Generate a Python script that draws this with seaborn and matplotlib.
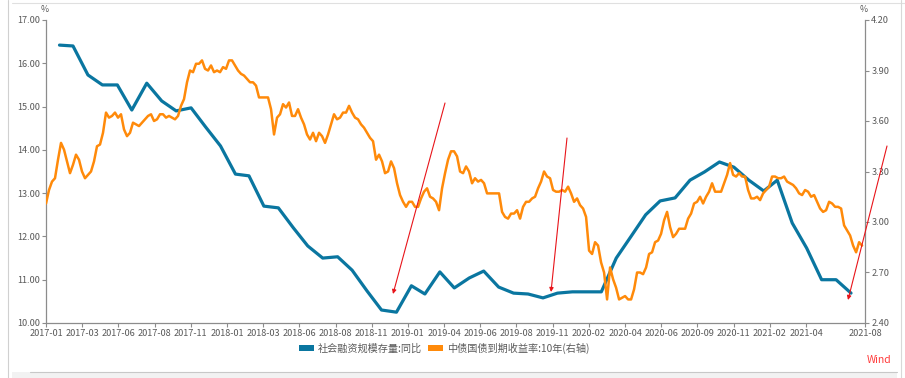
import numpy as np
import pandas as pd
import matplotlib
matplotlib.use("Agg")
import matplotlib.pyplot as plt
import matplotlib.dates as mdates
from matplotlib.patches import Patch, Rectangle
from matplotlib.lines import Line2D
from matplotlib.ticker import FormatStrFormatter
import seaborn as sns

# ---------------- data ----------------
blue_label = "社会融资规模存量:同比"
orange_label = "中债国债到期收益率:10年(右轴)"

# monthly, 2017-01 .. 2021-07 (left axis, %)
blue_values = [
    16.42, 16.40, 15.73, 15.50, 15.50, 14.92, 15.54, 15.13, 14.90, 14.97, 14.53, 14.09,
    13.44, 13.40, 12.70, 12.66, 12.20, 11.78, 11.50, 11.53, 11.22, 10.74, 10.30, 10.25,
    10.86, 10.67, 11.18, 10.81, 11.04, 11.20, 10.83, 10.69, 10.67, 10.58, 10.69, 10.72,
    10.72, 10.72, 11.50, 11.99, 12.50, 12.82, 12.89, 13.30, 13.49, 13.72, 13.60, 13.30,
    13.05, 13.30, 12.31, 11.73, 11.00, 11.00, 10.69,
]
blue_start_month = "2017-01"

# 10Y CGB yield, evenly sampled 2017-01-03 .. 2021-08-23 (right axis, %)
orange_start = "2017-01-03"
orange_end = "2021-08-23"
orange_values = [
    3.11, 3.19, 3.24, 3.26, 3.37, 3.47, 3.43, 3.36, 3.29, 3.34, 3.40, 3.37,
    3.30, 3.26, 3.28, 3.30, 3.36, 3.45, 3.46, 3.53, 3.65, 3.62, 3.63, 3.65,
    3.62, 3.64, 3.55, 3.51, 3.53, 3.59, 3.58, 3.57, 3.59, 3.61, 3.63, 3.64,
    3.60, 3.61, 3.64, 3.64, 3.62, 3.63, 3.62, 3.61, 3.63, 3.69, 3.73, 3.83,
    3.90, 3.89, 3.94, 3.94, 3.96, 3.91, 3.90, 3.93, 3.89, 3.90, 3.89, 3.92,
    3.91, 3.96, 3.96, 3.93, 3.90, 3.88, 3.87, 3.85, 3.83, 3.83, 3.81, 3.74,
    3.74, 3.74, 3.74, 3.67, 3.52, 3.62, 3.64, 3.70, 3.68, 3.71, 3.63, 3.63,
    3.67, 3.62, 3.58, 3.52, 3.49, 3.53, 3.48, 3.53, 3.51, 3.47, 3.52, 3.58,
    3.64, 3.61, 3.62, 3.65, 3.65, 3.69, 3.65, 3.62, 3.61, 3.58, 3.56, 3.53,
    3.50, 3.48, 3.37, 3.40, 3.36, 3.29, 3.30, 3.36, 3.32, 3.23, 3.16, 3.12,
    3.09, 3.12, 3.12, 3.09, 3.09, 3.14, 3.18, 3.20, 3.15, 3.14, 3.12, 3.07,
    3.20, 3.29, 3.37, 3.42, 3.42, 3.39, 3.30, 3.29, 3.33, 3.30, 3.23, 3.26,
    3.24, 3.25, 3.23, 3.17, 3.17, 3.17, 3.17, 3.17, 3.06, 3.03, 3.02, 3.05,
    3.05, 3.07, 3.02, 3.09, 3.12, 3.12, 3.14, 3.15, 3.20, 3.24, 3.30, 3.27,
    3.26, 3.19, 3.18, 3.18, 3.19, 3.18, 3.21, 3.17, 3.12, 3.14, 3.10, 3.08,
    3.03, 2.83, 2.81, 2.88, 2.86, 2.76, 2.70, 2.54, 2.73, 2.66, 2.61, 2.54,
    2.55, 2.56, 2.54, 2.54, 2.60, 2.70, 2.70, 2.69, 2.73, 2.81, 2.82, 2.88,
    2.89, 2.93, 3.01, 3.06, 2.97, 2.91, 2.93, 2.96, 2.96, 2.96, 3.02, 3.05,
    3.11, 3.12, 3.15, 3.11, 3.15, 3.18, 3.23, 3.18, 3.18, 3.18, 3.23, 3.28,
    3.35, 3.28, 3.27, 3.29, 3.27, 3.27, 3.19, 3.14, 3.14, 3.15, 3.13, 3.17,
    3.19, 3.21, 3.27, 3.27, 3.26, 3.26, 3.27, 3.24, 3.23, 3.22, 3.20, 3.17,
    3.16, 3.19, 3.18, 3.15, 3.16, 3.12, 3.08, 3.06, 3.07, 3.12, 3.11, 3.09,
    3.09, 3.08, 2.98, 2.95, 2.92, 2.86, 2.82, 2.88, 2.86,
]

x_tick_labels = [
    "2017-01", "2017-03", "2017-06", "2017-08", "2017-11", "2018-01", "2018-03",
    "2018-06", "2018-08", "2018-11", "2019-01", "2019-04", "2019-06", "2019-08",
    "2019-11", "2020-02", "2020-04", "2020-06", "2020-09", "2020-11", "2021-02",
    "2021-04", "2021-08",
]
left_ticks = [10, 11, 12, 13, 14, 15, 16, 17]
right_ticks = [2.4, 2.7, 3.0, 3.3, 3.6, 3.9, 4.2]

# ---------------- frames ----------------
blue_dates = pd.period_range(blue_start_month, periods=len(blue_values), freq="M").end_time.normalize()
df_blue = pd.DataFrame({"date": blue_dates, "value": blue_values})
orange_dates = pd.date_range(orange_start, orange_end, periods=len(orange_values))
df_orange = pd.DataFrame({"date": orange_dates, "value": orange_values})

BLUE = "#0A76A0"
ORANGE = "#FF8A0A"
GRAY_TXT = "#5A5A5A"
GRAY_AX = "#8C8C8C"

sns.set_theme(style="white")
plt.rcParams["font.family"] = ["Noto Sans CJK SC", "DejaVu Sans"]
plt.rcParams["axes.unicode_minus"] = False

W, H = 905, 378
fig = plt.figure(figsize=(W / 100, H / 100), dpi=100)
fig.patch.set_facecolor("white")
ax = fig.add_axes([46 / W, 1 - 323 / H, (865 - 46) / W, (323 - 20) / H])
ax2 = ax.twinx()

sns.lineplot(data=df_blue, x="date", y="value", ax=ax, color=BLUE, linewidth=2.3, legend=False)
sns.lineplot(data=df_orange, x="date", y="value", ax=ax2, color=ORANGE, linewidth=1.8, legend=False)

for a in (ax, ax2):
    a.set_xlabel("")
    a.set_ylabel("")
    a.grid(False)
    a.set_facecolor("none")

# x axis
x0 = pd.Timestamp("2017-01-03")
x1 = pd.Timestamp("2021-08-29")
ax.set_xlim(x0, x1)
n0, n1 = mdates.date2num(x0), mdates.date2num(x1)
step = (n1 - n0) * 36.19 / 819
xt = [n0 + k * step for k in range(len(x_tick_labels) - 1)] + [n1]
ax.set_xticks(xt)
ax.set_xticklabels(x_tick_labels)

# y axes
ax.set_ylim(10, 17)
ax.set_yticks(left_ticks)
ax.yaxis.set_major_formatter(FormatStrFormatter("%.2f"))
ax2.set_ylim(2.4, 4.2)
ax2.set_yticks(right_ticks)
ax2.yaxis.set_major_formatter(FormatStrFormatter("%.2f"))

ax.tick_params(axis="both", which="major", direction="out", length=3, width=0.8,
               color=GRAY_AX, labelcolor=GRAY_TXT, labelsize=6.6, pad=1.5,
               bottom=True, left=True, top=False, right=False)
ax2.tick_params(axis="y", which="major", direction="out", length=3, width=0.8,
                color=GRAY_AX, labelcolor=GRAY_TXT, labelsize=6.6, pad=1.5,
                right=True, left=False)

for a in (ax, ax2):
    a.spines["top"].set_visible(False)
    for s in ("left", "bottom", "right"):
        a.spines[s].set_color(GRAY_AX)
        a.spines[s].set_linewidth(0.9)
ax.spines["right"].set_visible(False)
ax2.spines["left"].set_visible(False)
ax2.spines["bottom"].set_visible(False)

# unit labels
fig.text(45 / W, 1 - 10 / H, "%", ha="center", va="center", fontsize=6.3, color=GRAY_TXT)
fig.text(864 / W, 1 - 10 / H, "%", ha="center", va="center", fontsize=6.3, color=GRAY_TXT)

# legend
handles = [Patch(facecolor=BLUE, edgecolor="none", label=blue_label),
           Patch(facecolor=ORANGE, edgecolor="none", label=orange_label)]
fig.legend(handles=handles, loc="center", bbox_to_anchor=(444 / W, 1 - 348 / H), ncol=2,
           frameon=False, fontsize=7.3, handlelength=1.5, handleheight=0.65,
           columnspacing=0.6, handletextpad=0.35, labelcolor=GRAY_TXT)

# source
fig.text(879 / W, 1 - 360 / H, "Wind", ha="center", va="center", fontsize=7.5, color="#FF3B3B")

# red annotation arrows
arrows = [((445, 103), (393, 294)), ((567, 138), (551, 292)), ((887, 146), (848, 300))]
for (sx, sy), (ex, ey) in arrows:
    ax2.annotate("", xy=(ex, H - ey), xycoords="figure pixels",
                 xytext=(sx, H - sy), textcoords="figure pixels",
                 arrowprops=dict(arrowstyle="-|>", color="#E8141A", lw=0.8,
                                 mutation_scale=6, shrinkA=0, shrinkB=0),
                 annotation_clip=False)

# window frame decoration
fig.add_artist(Line2D([7.5 / W, 7.5 / W], [0, 1], color="#D0D0D0", lw=0.8))
fig.add_artist(Line2D([12 / W, 1], [1 - 2.5 / H, 1 - 2.5 / H], color="#E0E0E0", lw=0.8))
fig.add_artist(Line2D([901 / W, 901 / W], [0, 1], color="#D8D8D8", lw=0.8))
fig.add_artist(Rectangle((12 / W, 0), (897 - 12) / W, 6 / H, transform=fig.transFigure,
                         facecolor="#F2F2F2", edgecolor="none"))
fig.add_artist(Line2D([30 / W, 897 / W], [6 / H, 6 / H], color="#C8C8C8", lw=0.8))

fig.savefig("out.png", dpi=100, facecolor="white")
